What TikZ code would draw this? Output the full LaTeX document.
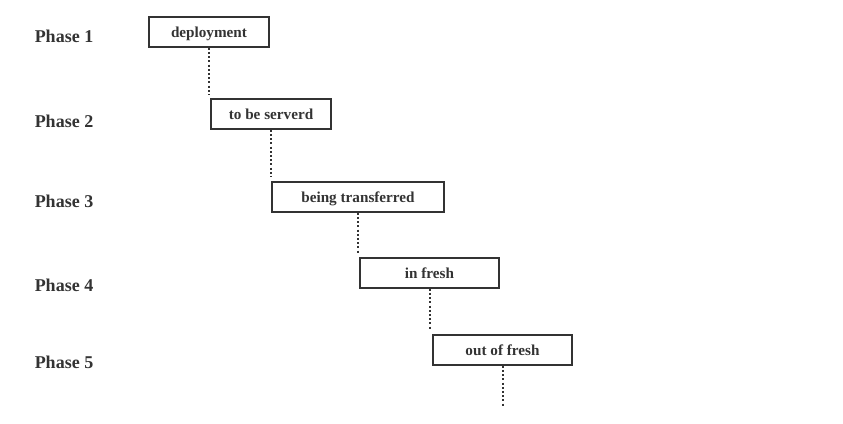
\documentclass[tikz,border=0pt]{standalone}
\usepackage{fontspec}
\setmainfont{Liberation Serif}
\definecolor{ink}{HTML}{333333}
\begin{document}
\begin{tikzpicture}[x=1pt,y=-1pt,
  phase/.style={font=\bfseries\fontsize{18}{20}\selectfont, text=ink, anchor=center},
  task/.style={draw=ink, line width=1.5pt, minimum height=30pt, inner sep=0pt, text height=10.5pt, text depth=0pt, font=\bfseries\fontsize{15.2}{17}\selectfont, text=ink},
  hang/.style={draw=ink, line width=2pt, dash pattern=on 2pt off 2.2pt}]
\useasboundingbox (0,0) rectangle (843,423);
\node[phase] (p1) at (64,36) {Phase 1};
\node[phase] (p2) at (64,121) {Phase 2};
\node[phase] (p3) at (64,201) {Phase 3};
\node[phase] (p4) at (64,285) {Phase 4};
\node[phase] (p5) at (64,362) {Phase 5};
\node[task, minimum width=120pt] (t1) at (209,32) {deployment};
\node[task, minimum width=120pt] (t2) at (271,114) {to be serverd};
\node[task, minimum width=172pt] (t3) at (358,197) {being transferred};
\node[task, minimum width=139pt] (t4) at (429.5,273) {in fresh};
\node[task, minimum width=139pt] (t5) at (502.5,350) {out of fresh};
\coordinate (e1) at (209,94);
\coordinate (e2) at (271,176);
\coordinate (e3) at (358,253);
\coordinate (e4) at (430,329);
\coordinate (e5) at (503,406);
\draw[hang] (t1.south) -- (e1);
\draw[hang] (t2.south) -- (e2);
\draw[hang] (t3.south) -- (e3);
\draw[hang] (t4.south -| e4) -- (e4);
\draw[hang] (t5.south -| e5) -- (e5);
\end{tikzpicture}
\end{document}
